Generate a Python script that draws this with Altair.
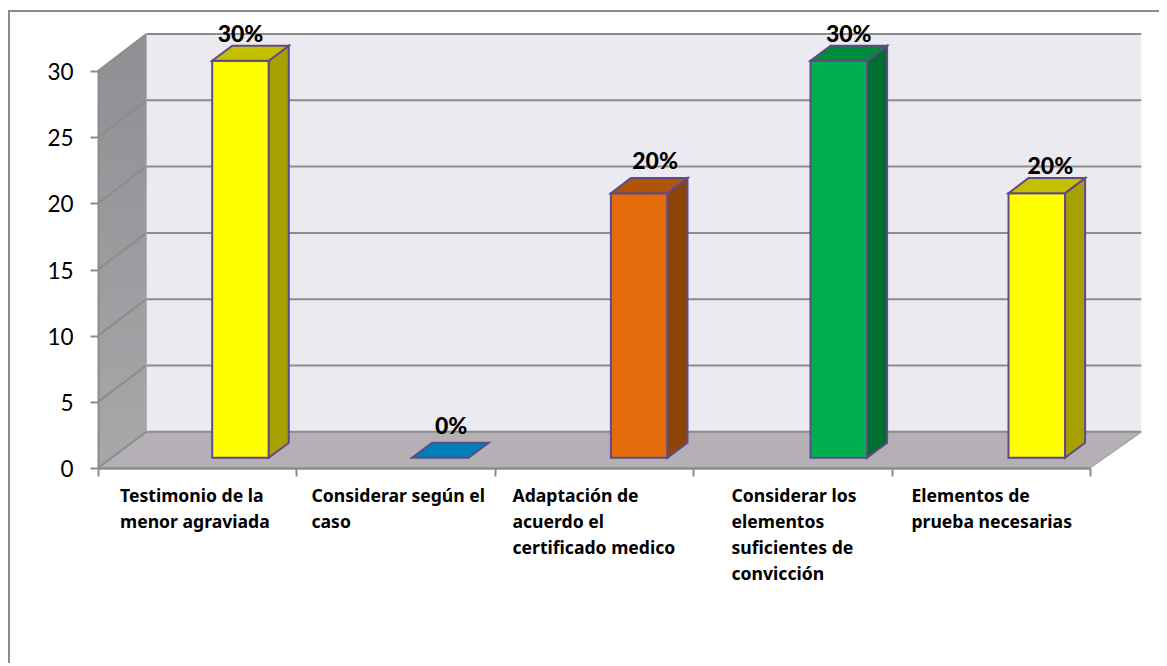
import altair as alt
import pandas as pd

# ---- chart values
CATEGORIES = [
    "Testimonio de la\nmenor agraviada",
    "Considerar según el\ncaso",
    "Adaptación de\nacuerdo el\ncertificado medico",
    "Considerar los\nelementos\nsuficientes de\nconvicción",
    "Elementos de\nprueba necesarias",
]
VALUES = [30, 0, 20, 30, 20]
PERCENTS = ["30%", "0%", "20%", "30%", "20%"]
Y_TICKS = [0, 5, 10, 15, 20, 25, 30]
X_TICKS = [0, 1, 2, 3, 4, 5]

# ---- face colours
FRONT = ["#FFFF00", "#0080B8", "#E46C0A", "#00B050", "#FFFF00"]
TOP = ["#C4C000", "#0080B8", "#B05408", "#008A3E", "#C4C000"]
SIDE = ["#A6A000", "#0080B8", "#8F4407", "#006E32", "#A6A000"]
EDGE = "#5F4A87"
GRID = "#8C8C8C"

# ---- 3D projection, expressed in axis units (category steps / value units)
BACK_L, BACK_R = 0.2435, 5.2586       # back wall x extent
BACK_BOTTOM, BACK_TOP = 2.735, 32.8   # back wall y extent
BAR_HALF = 0.1426
BAR_DX, BAR_DY = 0.1008, 1.14
BAR_BASE = 0.77
BAR_CENTRES = [0.7182, 1.7253, 2.7278, 3.7339, 4.7319]
LABEL_DX = [0.0, 0.055, 0.08, 0.05, 0.068]
LABEL_DY = [0.78, 1.17, 1.22, 0.78, 0.86]
CAT_DX = [0.111, 0.076, 0.089, 0.193, 0.1]
CAT_Y = -1.49


def back_y(v):
    return BACK_BOTTOM + v * (BACK_TOP - BACK_BOTTOM) / 30


xs = alt.Scale(domain=[0, 5], nice=False, zero=False)
ys = alt.Scale(domain=[0, 30], nice=False, zero=False)
X_AXIS = alt.Axis(
    values=X_TICKS, labels=False, grid=False, tickSize=8, tickWidth=2,
    tickColor=GRID, domainColor=GRID, domainWidth=2.5, zindex=1, title=None)
Y_AXIS = alt.Axis(
    values=Y_TICKS, grid=False, tickSize=8, tickWidth=2, tickColor=GRID,
    domainColor=GRID, domainWidth=2, labelFont="Lato", labelFontSize=22.5,
    labelColor="#000000", labelPadding=17, labelOffset=1.5, zindex=1, title=None)
X = alt.X("x:Q", scale=xs, axis=X_AXIS)
Y = alt.Y("y:Q", scale=ys, axis=Y_AXIS)

# ---- walls
back = alt.Chart(pd.DataFrame({
    "x": [BACK_L], "x2": [BACK_R], "y": [BACK_BOTTOM], "y2": [BACK_TOP],
})).mark_rect(color="#ECEAF1").encode(x=X, x2="x2:Q", y=Y, y2="y2:Q")

side_wall = alt.Chart(pd.DataFrame({
    "x": [0, BACK_L], "y": [0, BACK_BOTTOM], "y2": [30, BACK_TOP],
})).mark_area(color=alt.Gradient(
    gradient="linear", x1=0, x2=0, y1=0, y2=1,
    stops=[alt.GradientStop(color="#8F8E92", offset=0),
           alt.GradientStop(color="#A8A7AA", offset=1)],
)).encode(x=X, y=Y, y2="y2:Q")

floor = alt.Chart(pd.DataFrame({
    "y": [0, BACK_BOTTOM], "x": [0, BACK_L], "x2": [5, BACK_R],
})).mark_area(orient="horizontal", color="#B5B0B5").encode(x=X, x2="x2:Q", y=Y)

grid_back = alt.Chart(pd.DataFrame({
    "x": [BACK_L] * len(Y_TICKS), "x2": [BACK_R] * len(Y_TICKS),
    "y": [back_y(v) for v in Y_TICKS], "y2": [back_y(v) for v in Y_TICKS],
})).mark_rule(color=GRID, strokeWidth=2).encode(x=X, x2="x2:Q", y=Y, y2="y2:Q")

grid_side = alt.Chart(pd.DataFrame({
    "x": [0] * len(Y_TICKS) + [BACK_L] * len(Y_TICKS),
    "y": list(Y_TICKS) + [back_y(v) for v in Y_TICKS],
    "g": list(Y_TICKS) * 2,
})).mark_line(color=GRID, strokeWidth=2).encode(x=X, y=Y, detail="g:N")

back_edge = alt.Chart(pd.DataFrame({
    "x": [BACK_L], "y": [BACK_BOTTOM], "y2": [BACK_TOP],
})).mark_rule(color="#A9A8AC", strokeWidth=1).encode(x=X, y=Y, y2="y2:Q")

floor_right = alt.Chart(pd.DataFrame({
    "x": [5, BACK_R], "y": [0, BACK_BOTTOM],
})).mark_line(color="#A8A5A9", strokeWidth=1.5).encode(x=X, y=Y)

# ---- bars
front_rows, top_rows, side_rows, label_rows, cat_rows = [], [], [], [], []
for i, v in enumerate(VALUES):
    c = BAR_CENTRES[i]
    l, r = c - BAR_HALF, c + BAR_HALF
    base = BAR_BASE
    if v > 0:
        front_rows.append({"x": l, "x2": r, "y": base, "y2": base + v, "c": FRONT[i]})
        side_rows += [
            {"bar": i, "x": r, "y": base, "y2": base + v, "c": SIDE[i]},
            {"bar": i, "x": r + BAR_DX, "y": base + BAR_DY, "y2": base + BAR_DY + v, "c": SIDE[i]},
        ]
    top_rows += [
        {"bar": i, "y": base + v, "x": l, "x2": r, "c": TOP[i]},
        {"bar": i, "y": base + v + BAR_DY, "x": l + BAR_DX, "x2": r + BAR_DX, "c": TOP[i]},
    ]
    label_rows.append({
        "x": c + LABEL_DX[i], "y": base + v + BAR_DY + LABEL_DY[i], "t": PERCENTS[i],
    })
    cat_rows.append({"x": i + CAT_DX[i], "y": CAT_Y, "t": CATEGORIES[i]})

FILL = alt.Fill("c:N", scale=None, legend=None)
front = alt.Chart(pd.DataFrame(front_rows)).mark_rect(stroke=EDGE, strokeWidth=2).encode(
    x=X, x2="x2:Q", y=Y, y2="y2:Q", fill=FILL)
sides = alt.Chart(pd.DataFrame(side_rows)).mark_area(stroke=EDGE, strokeWidth=2).encode(
    x=X, y=Y, y2="y2:Q", fill=FILL, detail="bar:N")
tops = alt.Chart(pd.DataFrame(top_rows)).mark_area(
    orient="horizontal", stroke=EDGE, strokeWidth=2
).encode(x=X, x2="x2:Q", y=Y, fill=FILL, detail="bar:N")

labels = alt.Chart(pd.DataFrame(label_rows)).mark_text(
    font="Lato", fontWeight=900, fontSize=23, color="#000000", baseline="middle"
).encode(x=X, y=Y, text="t:N")

cats = alt.Chart(pd.DataFrame(cat_rows)).mark_text(
    font="Noto Sans", fontWeight="bold", fontSize=17.6, color="#000000",
    align="left", baseline="top", lineBreak="\n", lineHeight=26,
).encode(x=X, y=Y, text="t:N")

# ---- outer frame (only the top and left edges are inside the picture)
frame_top = alt.Chart(pd.DataFrame({"a": [0]})).mark_rule(color=GRID, strokeWidth=2).encode(
    x=alt.value(-90), x2=alt.value(1061), y=alt.value(-60))
frame_left = alt.Chart(pd.DataFrame({"a": [0]})).mark_rule(color=GRID, strokeWidth=2).encode(
    x=alt.value(-89), y=alt.value(-60), y2=alt.value(595))

chart = alt.layer(
    back, side_wall, floor, grid_side, grid_back, back_edge, floor_right,
    front, sides, tops, labels, cats, frame_top, frame_left,
).properties(
    width=992, height=397,
    padding={"left": 90, "top": 63, "right": 69, "bottom": 195},
    autosize=alt.AutoSizeParams(type="none"),
    background="#FFFFFF",
).configure_view(stroke=None, clip=False)

chart.save("out.html", embed_options={"renderer": "svg", "actions": False})
